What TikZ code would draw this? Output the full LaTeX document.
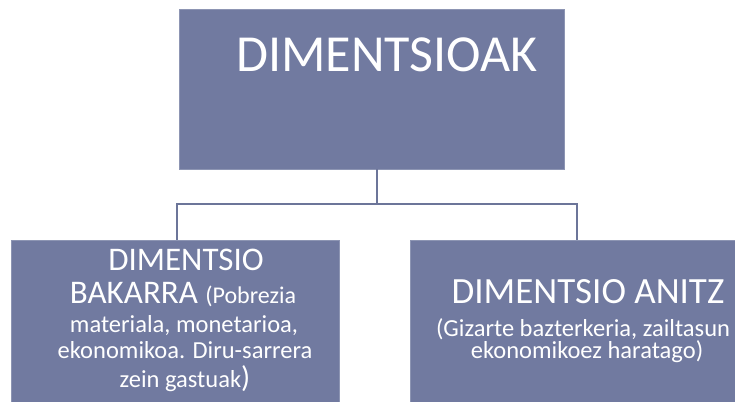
\documentclass[tikz,border=0pt]{standalone}
\usepackage{fontspec}
\setmainfont{Carlito}
\definecolor{boxfill}{HTML}{717AA0}
\definecolor{linecol}{HTML}{6C7599}
\tikzset{
  box/.style={draw=boxfill!80!white, line width=0.6pt, fill=boxfill, inner sep=0pt},
  big/.style={text=white, inner sep=0pt, anchor=base, font=\fontsize{33}{33}\selectfont},
  small/.style={text=white, inner sep=0pt, anchor=base, font=\fontsize{24.5}{24.5}\selectfont},
  conn/.style={draw=linecol, line width=1.6pt}
}
\begin{document}
\begin{tikzpicture}[x=1pt,y=-1pt]
\useasboundingbox (0,0) rectangle (735,401);
% boxes
\node[box, minimum width=385pt, minimum height=160pt] (top) at (371.5,89) {};
\node[box, minimum width=328pt, minimum height=170pt] (left) at (175,325) {};
\node[box, minimum width=330pt, minimum height=170pt] (right) at (575,325) {};
% texts
\node[text=white, inner sep=0pt, anchor=base, font=\fontsize{52}{52}\selectfont] (title) at (387,72) {DIMENTSIOAK};
\node[big] (l1) at (186,270) {DIMENTSIO};
\node[big] (l2) at (183,303) {BAKARRA\ {\fontsize{24}{24}\selectfont(Pobrezia}};
\node[small] (l3) at (184,332) {materiala, monetarioa,};
\node[small] (l4) at (185,358) {ekonomikoa. Diru-sarrera};
\node[small] (l5) at (185,387) {zein gastuak{\fontsize{30}{30}\selectfont)}};
\node[big, font=\fontsize{37}{37}\selectfont] (r1) at (588,303) {DIMENTSIO ANITZ};
\node[small] (r2) at (583,336) {(Gizarte bazterkeria, zailtasun};
\node[small] (r3) at (587,358) {ekonomikoez haratago)};
% connectors
\coordinate (j) at (377,204);
\draw[conn] (top.south -| j) -- (j);
\draw[conn] (left.north -| 177,0) |- (j);
\draw[conn] (right.north -| 577,0) |- (j);
\end{tikzpicture}
\end{document}
